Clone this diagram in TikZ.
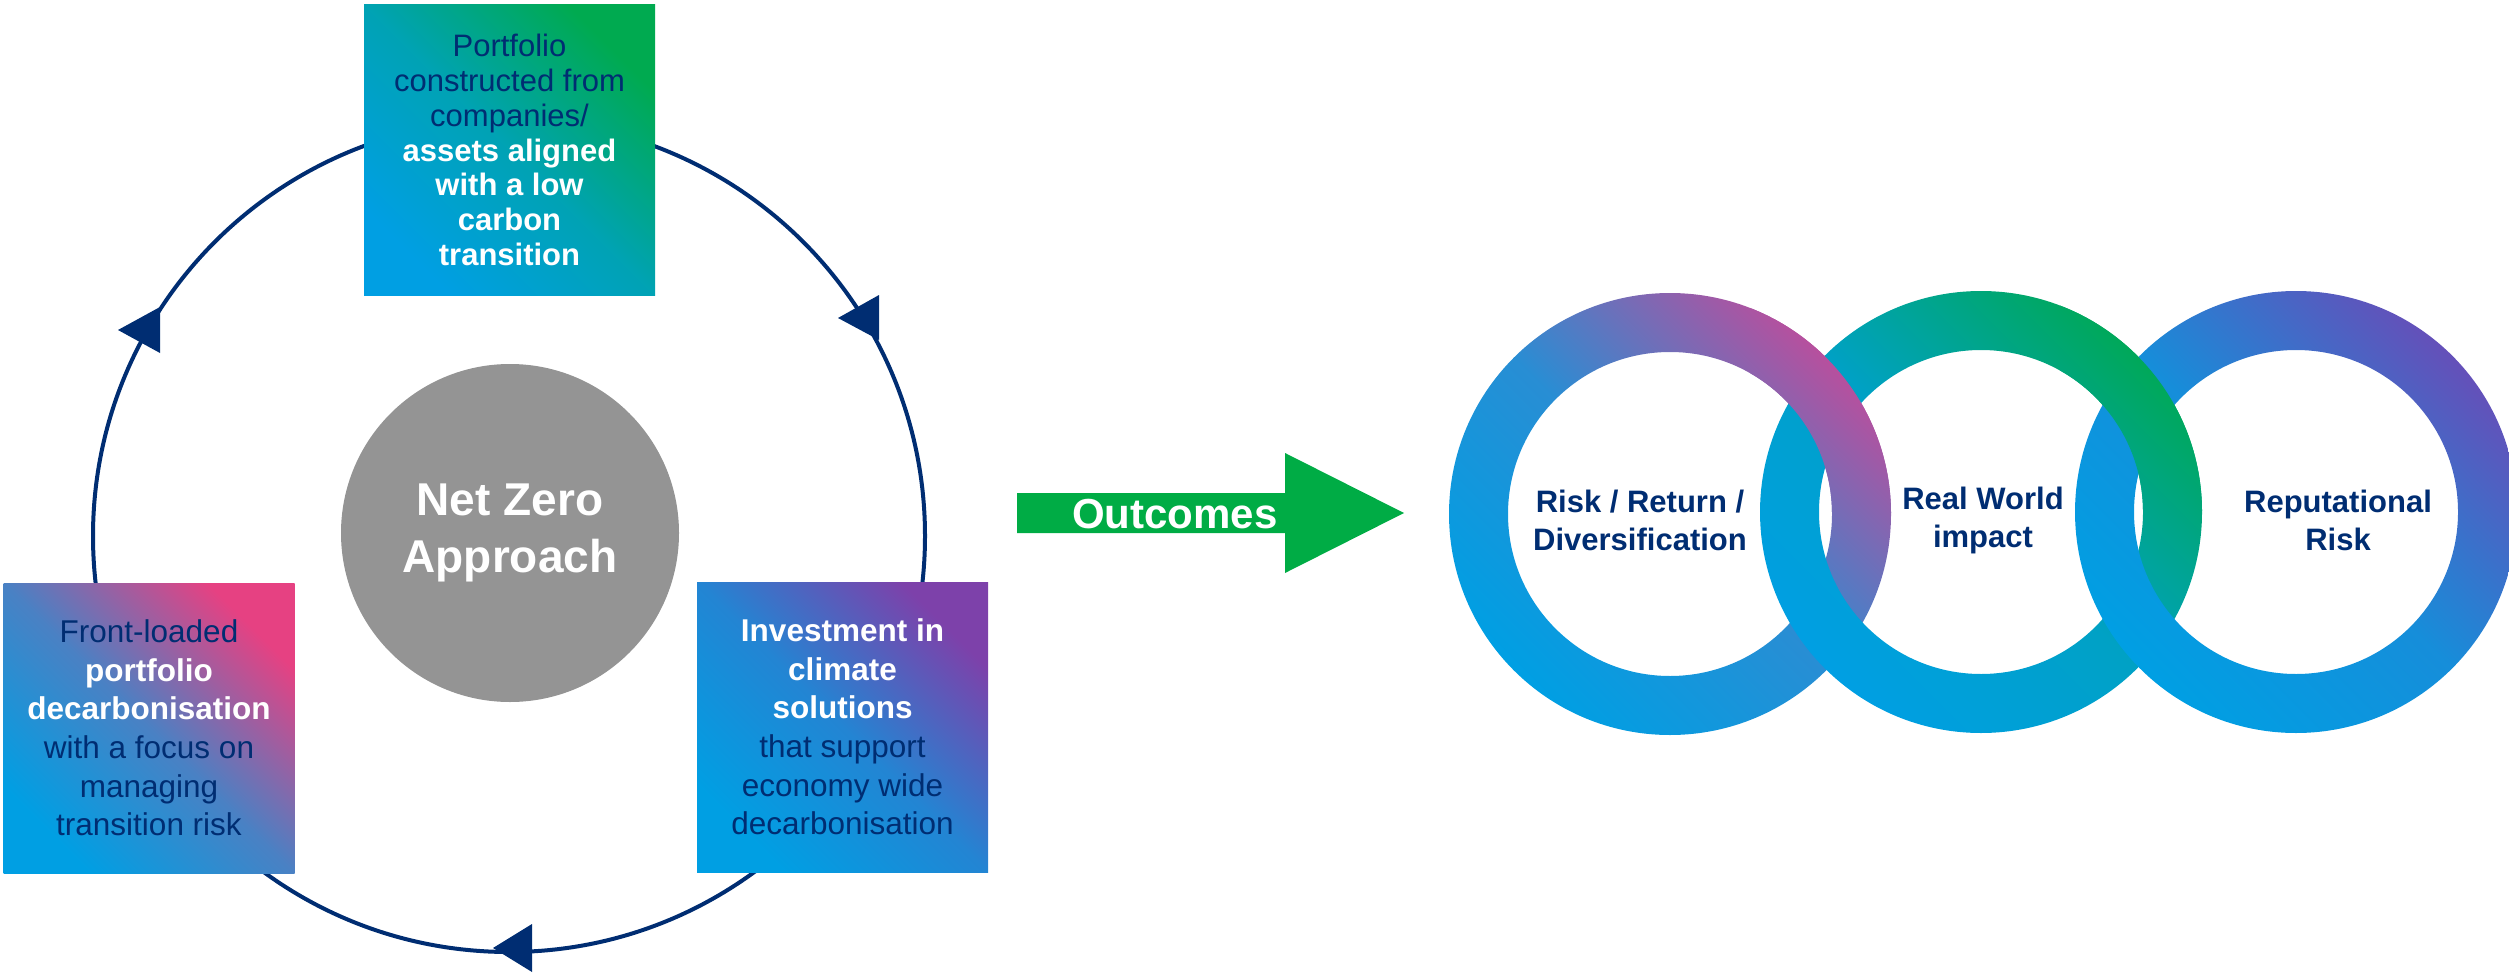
\documentclass[tikz,border=0pt]{standalone}
\usepackage{fontspec}
\setmainfont{Liberation Sans}
\definecolor{navyc}{RGB}{0,45,114}
\definecolor{bluec}{RGB}{0,159,227}
\definecolor{greenc}{RGB}{0,170,80}
\definecolor{pinkc}{RGB}{230,65,130}
\definecolor{purplec}{RGB}{125,65,170}
\definecolor{arrowg}{RGB}{0,172,69}
\definecolor{grayc}{RGB}{148,148,148}
\definecolor{ringa}{RGB}{182,80,158}
\definecolor{ringb}{RGB}{0,168,90}
\definecolor{ringc}{RGB}{100,80,185}
\newcommand{\nvl}{\color{navyc}\mdseries}
\newcommand{\whl}{\color{white}\bfseries}
\tikzset{
  gradfill/.style n args={3}{bottom color=#1, top color=#2, middle color=#1!#3!#2, shading angle=-45},
  infobox/.style={minimum width=145.5pt, minimum height=145pt, inner sep=0pt, align=center,
    font=\fontsize{15.75}{19.3}\selectfont},
  cycleline/.style={draw=navyc, line width=2pt},
  tipmark/.style={fill=navyc},
  hubcircle/.style={circle, fill=grayc, minimum size=169pt, inner sep=0pt, align=center,
    text=white, font=\fontsize{23}{28.5}\selectfont\bfseries},
  outarrow/.style={fill=arrowg},
  outlabel/.style={text=white, font=\fontsize{21}{25}\selectfont\bfseries, inner sep=0pt},
  ringpath/.style 2 args={even odd rule, gradfill={#1}{#2}{78}},
  ringlabel/.style={align=center, text=navyc, font=\fontsize{15.5}{19}\selectfont\bfseries, inner sep=0pt}
}
\begin{document}
\begin{tikzpicture}[x=0.5pt,y=-0.5pt]
\useasboundingbox (0,0) rectangle (2509,973);
% cycle
\coordinate (cc) at (509,536);
\draw[cycleline] (cc) circle[radius=416];
\fill[tipmark] (118,330) -- (160,307) -- (160,353) -- cycle;
\fill[tipmark] (838,318) -- (879,295) -- (879,340) -- cycle;
\fill[tipmark] (493,948) -- (532,924) -- (532,972) -- cycle;
% boxes
\node[gradfill={bluec}{greenc}{68}, infobox, font=\fontsize{15.5}{17.4}\selectfont] (topbox) at (509.5,150)
  {\nvl Portfolio\\\nvl constructed from\\\nvl companies/\\\whl assets aligned\\\whl with a low\\\whl carbon\\\whl transition};
\node[gradfill={bluec}{pinkc}{68}, infobox] (leftbox) at (149,728)
  {\nvl Front-loaded\\\whl portfolio\\\whl decarbonisation\\\nvl with a focus on\\\nvl managing\\\nvl transition risk};
\node[gradfill={bluec}{purplec}{72}, infobox] (rightbox) at (842.5,727)
  {\whl Investment in\\\whl climate\\\whl solutions\\\nvl that support\\\nvl economy wide\\\nvl decarbonisation};
% hub
\node[hubcircle] (hub) at (510,533) {Net Zero\\Approach};
% outcomes arrow
\fill[outarrow] (1017,493) -- (1285,493) -- (1285,453) -- (1404,513) -- (1285,573) -- (1285,533) -- (1017,533) -- cycle;
\node[outlabel] (outcomes) at (1175,514) {Outcomes};
% rings
\coordinate (r1) at (1670,514);
\coordinate (r2) at (1981,512);
\coordinate (r3) at (2296,512);
\path[ringpath={bluec}{ringa}] (r1) circle[radius=221] (r1) circle[radius=162];
\path[ringpath={bluec}{ringb}] (r2) circle[radius=221] (r2) circle[radius=162];
\path[ringpath={bluec}{ringc}] (r3) circle[radius=221] (r3) circle[radius=162];
\begin{scope}
  \clip (1750,270) rectangle (1910,512);
  \path[ringpath={bluec}{ringa}] (r1) circle[radius=221] (r1) circle[radius=162];
\end{scope}
\begin{scope}
  \clip (2060,270) rectangle (2225,510);
  \path[ringpath={bluec}{ringb}] (r2) circle[radius=221] (r2) circle[radius=162];
\end{scope}
\node[ringlabel] (risk) at (1640,520) {Risk / Return /\\Diversification};
\node[ringlabel] (impact) at (1983,520) {Real World\\impact};
\node[ringlabel] (reput) at (2338,520) {Reputational\\Risk};
\end{tikzpicture}
\end{document}
